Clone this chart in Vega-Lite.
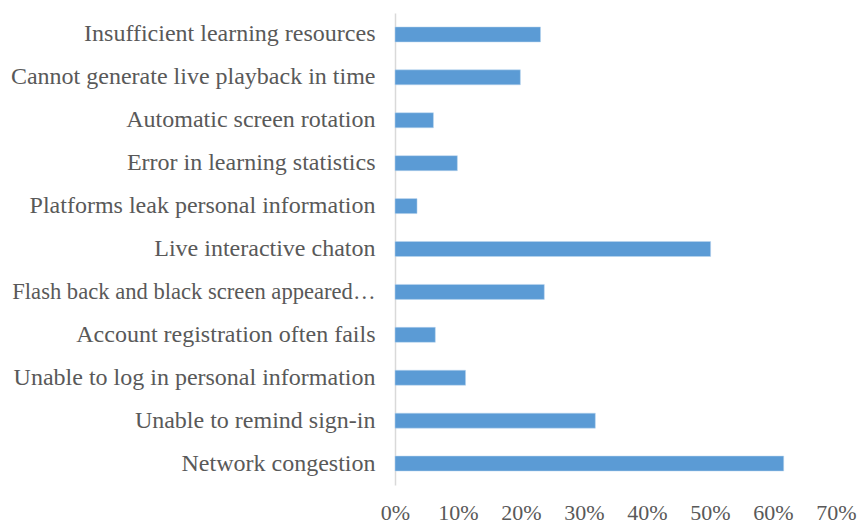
{
  "$schema": "https://vega.github.io/schema/vega-lite/v6.json",
  "width": 441,
  "height": 472,
  "autosize": {"type": "none"},
  "padding": {"left": 395, "top": 13, "right": 22, "bottom": 39},
  "background": "white",
  "config": {"view": {"stroke": null}},
  "data": {
    "values": [
      {"issue": "Insufficient learning resources", "share": 0.231},
      {"issue": "Cannot generate live playback in time", "share": 0.199},
      {"issue": "Automatic screen rotation", "share": 0.061},
      {"issue": "Error in learning statistics", "share": 0.099},
      {"issue": "Platforms leak personal information", "share": 0.035},
      {"issue": "Live interactive chaton", "share": 0.501},
      {"issue": "Flash back and black screen appeared…", "share": 0.237},
      {"issue": "Account registration often fails", "share": 0.064},
      {"issue": "Unable to log in personal information", "share": 0.112},
      {"issue": "Unable to remind sign-in", "share": 0.318},
      {"issue": "Network congestion", "share": 0.617}
    ]
  },
  "mark": {"type": "bar", "color": "#5B9BD5", "stroke": "#BDD7EE", "strokeWidth": 0.5},
  "encoding": {
    "y": {
      "field": "issue",
      "type": "nominal",
      "sort": null,
      "scale": {"paddingInner": 0.65, "paddingOuter": 0.325},
      "axis": {
        "title": null,
        "ticks": false,
        "domainColor": "#D9D9D9",
        "domainWidth": 1.5,
        "labelPadding": 20,
        "labelLimit": 0,
        "labelFont": "Liberation Serif",
        "labelFontSize": {"condition": {"test": "indexof(datum.value, 'Flash') === 0", "value": 22.6}, "value": 24},
        "labelColor": "#595959"
      }
    },
    "x": {
      "field": "share",
      "type": "quantitative",
      "scale": {"domain": [0, 0.7], "nice": false},
      "axis": {
        "title": null,
        "values": [0, 0.1, 0.2, 0.3, 0.4, 0.5, 0.6, 0.7],
        "format": ".0%",
        "domain": false,
        "ticks": false,
        "grid": false,
        "labelPadding": 17,
        "labelFont": "Liberation Serif",
        "labelFontSize": 22,
        "labelColor": "#595959",
        "labelFlush": false
      }
    }
  }
}
